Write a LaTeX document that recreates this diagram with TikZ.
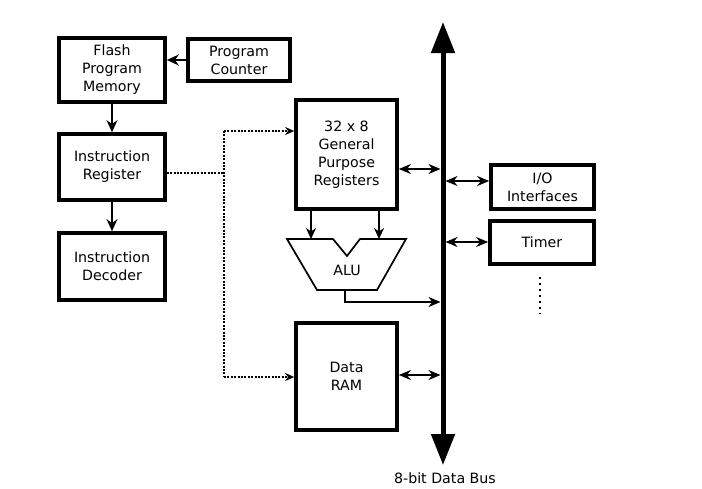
\documentclass[tikz,border=0pt]{standalone}
\usepackage{fontspec}
\setmainfont{DejaVu Sans}
\usetikzlibrary{arrows.meta,calc}
\begin{document}
\begin{tikzpicture}[x=1pt,y=-1pt,
  blk/.style={draw,line width=3.7pt,rectangle,align=center,inner sep=0pt,
    font=\fontsize{14.2}{18}\selectfont},
  arr/.style={line width=2.3pt,-{Stealth[length=12pt,width=11pt]}},
  darr/.style={line width=2.2pt,{Stealth[length=12pt,width=10pt]}-{Stealth[length=12pt,width=10pt]}},
  dotl/.style={line width=2pt,dash pattern=on 2pt off 1.4pt},
  lbl/.style={font=\fontsize{14.2}{18}\selectfont,inner sep=0pt}]
\useasboundingbox (0,0) rectangle (702,488);
% left column
\node[blk,minimum width=106pt,minimum height=64pt] (FPM) at (112,70) {Flash\\Program\\Memory};
\node[blk,minimum width=102pt,minimum height=42pt] (PC) at (239,60) {Program\\Counter};
\node[blk,minimum width=106pt,minimum height=66pt] (IR) at (112,167) {Instruction\\Register};
\node[blk,minimum width=106pt,minimum height=67pt] (ID) at (112,266.5) {Instruction\\Decoder};
\draw[arr] (PC.west) -- (FPM.east |- PC.west);
\draw[arr] (FPM.south) -- (IR.north);
\draw[arr] (IR.south) -- (ID.north);
% middle
\node[blk,minimum width=101pt,minimum height=109pt] (GPR) at (346.5,154.5) {32 x 8\\General\\Purpose\\Registers};
\node[blk,minimum width=101pt,minimum height=107pt] (RAM) at (346.5,376.5) {Data\\RAM};
% ALU
\coordinate (atl) at (287,239);
\coordinate (n1) at (333,239);
\coordinate (nb) at (347,256);
\coordinate (n2) at (360,239);
\coordinate (atr) at (406,239);
\coordinate (abr) at (377,290);
\coordinate (abl) at (317,290);
\draw[line width=1.7pt,line join=miter] (atl) -- (n1) -- (nb) -- (n2) -- (atr) -- (abr) -- (abl) -- cycle;
\node[lbl] (ALU) at (347,270) {ALU};
\coordinate (in1) at (311,239);
\coordinate (in2) at (379,239);
\coordinate (aout) at (345,290);
\draw[line width=2pt,-{Stealth[length=11pt,width=10pt]}] (GPR.south -| in1) -- (in1);
\draw[line width=2pt,-{Stealth[length=11pt,width=10pt]}] (GPR.south -| in2) -- (in2);
% bus
\coordinate (bustop) at (443,22);
\coordinate (busbot) at (443,465);
\draw[line width=5pt,{Triangle[length=31pt,width=23pt]}-{Triangle[length=31pt,width=23pt]}] (bustop) -- (busbot);
\node[lbl] (buslbl) at (445,478) {8-bit Data Bus};
\coordinate (bALU) at (440.5,302);
\coordinate (bGPR) at (440.5,169);
\coordinate (bRAM) at (440.5,375);
\coordinate (bIO) at (445.5,181);
\coordinate (bTM) at (445.5,242);
\draw[line width=2pt,-{Stealth[length=12pt,width=10pt]}] (aout) |- (bALU);
\draw[darr] (GPR.east |- bGPR) -- (bGPR);
\draw[darr] (RAM.east |- bRAM) -- (bRAM);
% right
\node[blk,minimum width=103pt,minimum height=44pt] (IO) at (542.5,187) {I/O\\Interfaces};
\node[blk,minimum width=104pt,minimum height=43pt] (TM) at (542,242.5) {Timer};
\draw[darr] (bIO) -- (IO.west |- bIO);
\draw[darr] (bTM) -- (TM.west |- bTM);
\coordinate (d1) at (540,277);
\coordinate (d2) at (540,314);
\draw[line width=1.5pt,dash pattern=on 1.5pt off 4.5pt] (d1) -- (d2);
% dotted control lines
\coordinate (j) at (224,173);
\coordinate (jt) at (224,131);
\coordinate (jb) at (224,377);
\draw[dotl] (IR.east |- j) -- (j);
\draw[dotl] (jt) -- (jb);
\draw[dotl,-{Stealth[length=9pt,width=8pt]}] (jt) -- (GPR.west |- jt);
\draw[dotl,-{Stealth[length=9pt,width=8pt]}] (jb) -- (RAM.west |- jb);
\end{tikzpicture}
\end{document}
